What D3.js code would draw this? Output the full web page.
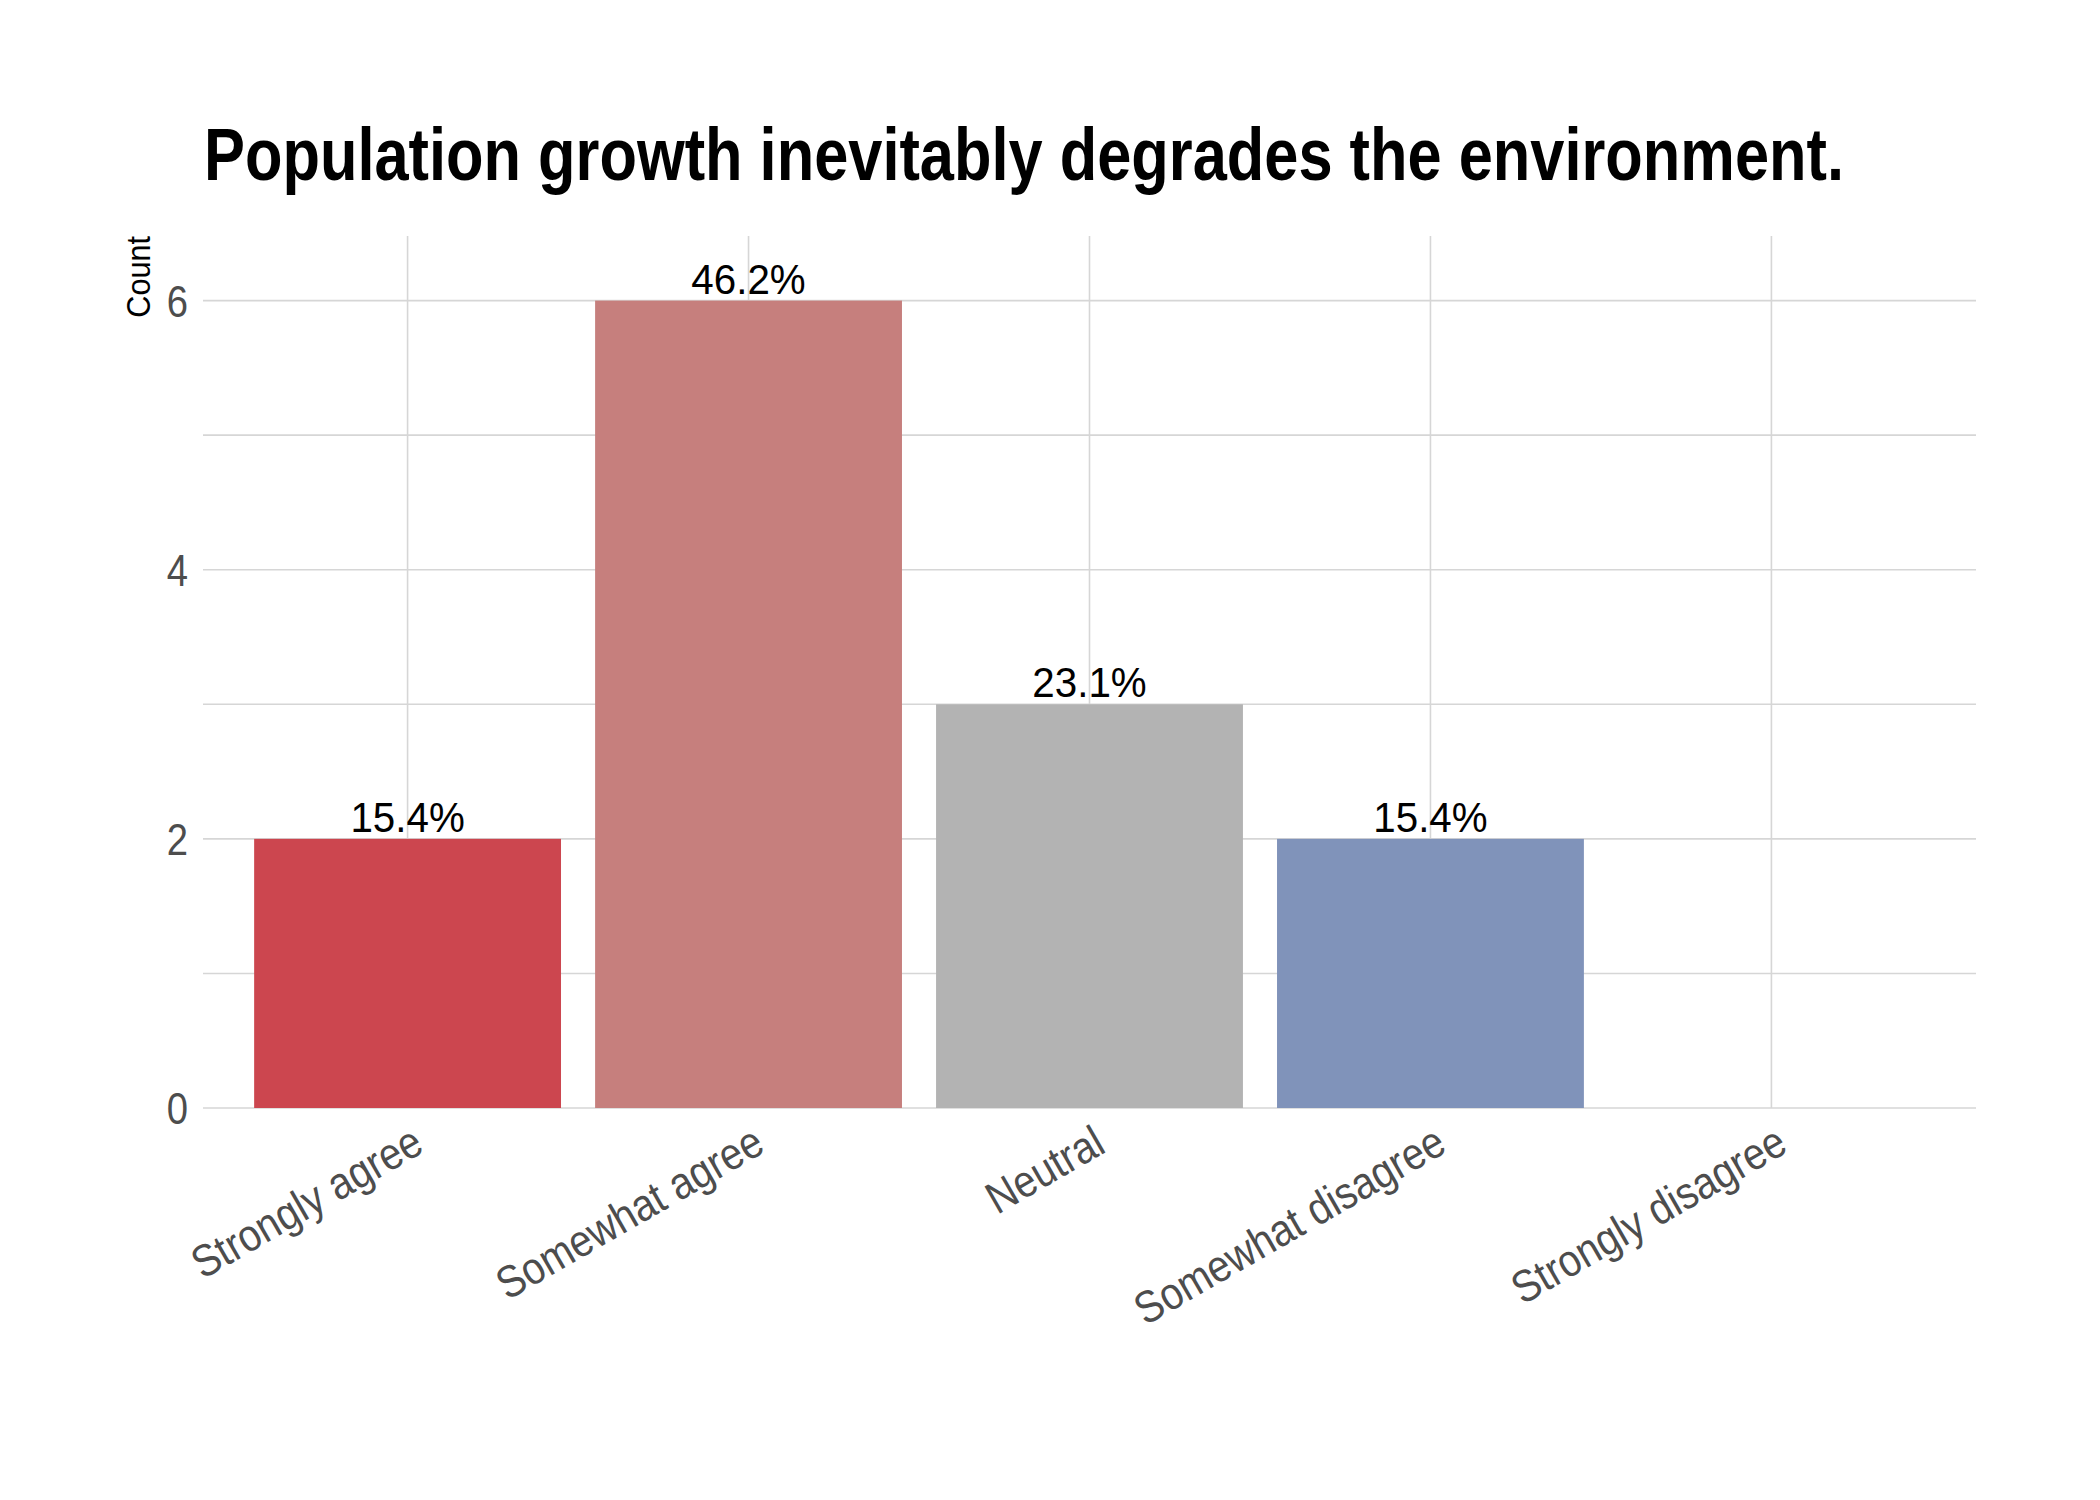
<!DOCTYPE html>
<html>
<head>
<meta charset="utf-8">
<script src="https://cdn.jsdelivr.net/npm/d3@7"></script>
<style>
  body { margin: 0; background: #fff; }
  text { font-family: "Liberation Sans", Arial, sans-serif; }
</style>
</head>
<body>
<svg id="chart" width="2100" height="1500"></svg>
<script>
// data
var categories = ["Strongly agree", "Somewhat agree", "Neutral", "Somewhat disagree", "Strongly disagree"]
var counts = [2, 6, 3, 2, 0]
var pctLabels = ["15.4%", "46.2%", "23.1%", "15.4%", ""]
var barColors = ["#cc464f", "#c67f7d", "#b3b3b3", "#8093ba", "#8093ba"]
var yTicks = [0, 2, 4, 6]
var yGrid = [0, 1, 2, 3, 4, 5, 6]

var svg = d3.select("#chart")
var mLeft = 203, mRight = 1976, mTop = 236, mBottom = 1108

// squeeze text horizontally so it looks like a condensed face
function narrow(sel, f) {
  sel.each(function() {
    var len = this.getComputedTextLength()
    if (len > 0) d3.select(this).attr("textLength", len * f).attr("lengthAdjust", "spacingAndGlyphs")
  })
}

// band scale: 0.6 units of space on each side, bar width 0.9
var x = d3.scaleBand().domain(categories).range([mLeft, mRight]).paddingInner(0.1).paddingOuter(0.15)
var y = d3.scaleLinear().domain([0, 6.48]).range([mBottom, mTop])

svg.append("rect").attr("width", 2100).attr("height", 1500).style("fill", "#fff")

// grid
svg.selectAll(".hgrid").data(yGrid).enter().append("line")
  .attr("x1", mLeft).attr("x2", mRight)
  .attr("y1", d => y(d)).attr("y2", d => y(d))
  .style("stroke", "#d6d6d6").style("stroke-width", 1.6)
svg.selectAll(".vgrid").data(categories).enter().append("line")
  .attr("x1", d => x(d) + x.bandwidth() / 2).attr("x2", d => x(d) + x.bandwidth() / 2)
  .attr("y1", mTop).attr("y2", mBottom)
  .style("stroke", "#d6d6d6").style("stroke-width", 1.6)

// bars
svg.selectAll(".bar").data(counts).enter().append("rect")
  .attr("x", (d, i) => x(categories[i]))
  .attr("y", d => y(d))
  .attr("width", x.bandwidth())
  .attr("height", d => y(0) - y(d))
  .style("fill", (d, i) => barColors[i])

// percent labels
svg.selectAll(".pct").data(counts).enter().append("text")
  .attr("x", (d, i) => x(categories[i]) + x.bandwidth() / 2)
  .attr("y", d => y(d) - 7)
  .attr("text-anchor", "middle")
  .style("font-size", "42px").style("fill", "#000")
  .text((d, i) => pctLabels[i])
  .call(narrow, 0.96)

// y axis labels
svg.selectAll(".ytick").data(yTicks).enter().append("text")
  .attr("x", 188).attr("y", d => y(d))
  .attr("text-anchor", "end").attr("dy", "0.36em")
  .style("font-size", "45px").style("fill", "#4d4d4d")
  .text(d => d)
  .call(narrow, 0.85)

// x axis labels, rotated
svg.selectAll(".xtick").data(categories).enter().append("text")
  .attr("transform", d => "translate(" + (x(d) + x.bandwidth() / 2 + 2) + "," + 1123 + ") rotate(-30)")
  .attr("text-anchor", "end").attr("dy", "0.72em")
  .style("font-size", "45px").style("fill", "#4d4d4d")
  .text(d => d)
  .call(narrow, 0.88)

// y axis title
svg.append("text")
  .attr("transform", "translate(150," + mTop + ") rotate(-90)")
  .attr("text-anchor", "end")
  .style("font-size", "34px").style("fill", "#000")
  .text("Count")
  .call(narrow, 0.9)

// title
var title = svg.append("text")
  .attr("x", 204).attr("y", 180)
  .style("font-size", "74px").style("font-weight", "bold").style("fill", "#000")
  .text("Population growth inevitably degrades the environment.")
title.attr("textLength", 1640).attr("lengthAdjust", "spacingAndGlyphs")
</script>
</body>
</html>
